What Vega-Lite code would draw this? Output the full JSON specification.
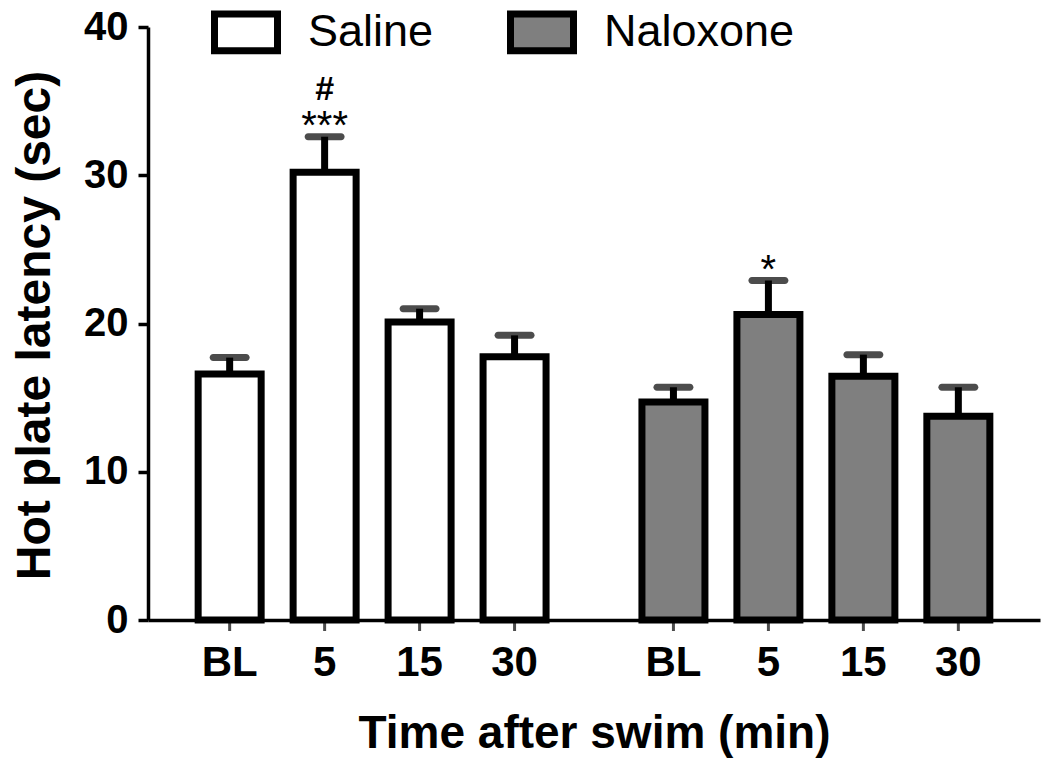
{
  "$schema": "https://vega.github.io/schema/vega-lite/v6.json",
  "autosize": "none",
  "width": 892,
  "height": 593,
  "padding": {"left": 148, "top": 27, "right": 10, "bottom": 150},
  "background": "white",
  "config": {
    "view": {"stroke": null},
    "font": "Liberation Sans"
  },
  "data": {
    "values": [
      {"group": "Saline", "time": "BL", "mean": 16.6, "upper": 17.7, "sig": "", "hash": ""},
      {"group": "Saline", "time": "5", "mean": 30.2, "upper": 32.6, "sig": "***", "hash": "#"},
      {"group": "Saline", "time": "15", "mean": 20.1, "upper": 21.0, "sig": "", "hash": ""},
      {"group": "Saline", "time": "30", "mean": 17.75, "upper": 19.2, "sig": "", "hash": ""},
      {"group": "Naloxone", "time": "BL", "mean": 14.7, "upper": 15.7, "sig": "", "hash": ""},
      {"group": "Naloxone", "time": "5", "mean": 20.6, "upper": 22.9, "sig": "*", "hash": ""},
      {"group": "Naloxone", "time": "15", "mean": 16.45, "upper": 17.9, "sig": "", "hash": ""},
      {"group": "Naloxone", "time": "30", "mean": 13.75, "upper": 15.7, "sig": "", "hash": ""}
    ]
  },
  "encoding": {
    "x": {
      "field": "group", "type": "nominal", "sort": ["Saline", "Naloxone"],
      "scale": {"paddingInner": 0.144, "paddingOuter": 0.077},
      "axis": {
        "labels": false, "ticks": false, "domainColor": "black", "domainWidth": 3.5,
        "title": "Time after swim (min)", "titleFont": "Liberation Sans", "titleFontSize": 46,
        "titleFontWeight": "bold", "titleColor": "black", "titleY": 113, "titleBaseline": "middle"
      }
    },
    "xOffset": {
      "field": "time", "type": "nominal", "sort": ["BL", "5", "15", "30"],
      "scale": {"paddingInner": 0, "paddingOuter": 0}
    }
  },
  "layer": [
    {
      "mark": {"type": "tick", "orient": "vertical", "size": 22, "thickness": 3, "color": "black"},
      "encoding": {"y": {"datum": 0, "type": "quantitative"}}
    },
    {
      "mark": {"type": "rule", "strokeWidth": 7, "color": "black"},
      "encoding": {
        "y": {"field": "mean", "type": "quantitative"},
        "y2": {"field": "upper"}
      }
    },
    {
      "mark": {"type": "bar", "width": 63, "stroke": "black", "strokeWidth": 7, "strokeJoin": "miter"},
      "encoding": {
        "y": {
          "field": "mean", "type": "quantitative",
          "scale": {"domain": [0, 40], "nice": false},
          "axis": {
            "values": [0, 10, 20, 30, 40], "tickSize": 10, "tickWidth": 3.5, "tickColor": "black",
            "domainColor": "black", "domainWidth": 3.5, "grid": false,
            "labelFont": "Liberation Sans", "labelFontSize": 40, "labelFontWeight": "bold",
            "labelColor": "black", "labelPadding": 10,
            "title": "Hot plate latency (sec)", "titleFont": "Liberation Sans", "titleFontSize": 48,
            "titleFontWeight": "bold", "titleColor": "black", "titleX": -113, "titleY": 298,
            "titleAlign": "center", "titleBaseline": "middle", "titleAngle": -90
          }
        },
        "fill": {
          "field": "group", "type": "nominal",
          "scale": {"domain": ["Saline", "Naloxone"], "range": ["white", "#7f7f7f"]},
          "legend": {
            "title": null, "orient": "none", "direction": "horizontal",
            "legendX": 63, "legendY": -30, "padding": 0,
            "symbolType": "M-1,-0.58H1V0.58H-1Z", "symbolSize": 3969,
            "symbolStrokeColor": "black", "symbolStrokeWidth": 7,
            "labelFont": "Liberation Sans", "labelFontSize": 45, "labelColor": "black",
            "labelOffset": 27, "labelLimit": 0, "columnPadding": 62
          }
        }
      }
    },
    {
      "mark": {"type": "tick", "orient": "horizontal", "size": 40, "thickness": 7, "color": "black", "cornerRadius": 3.5},
      "encoding": {"y": {"field": "upper", "type": "quantitative"}}
    },
    {
      "mark": {"type": "text", "baseline": "middle", "dy": 43, "font": "Liberation Sans", "fontSize": 42, "fontWeight": "bold", "color": "black"},
      "encoding": {
        "y": {"datum": 0, "type": "quantitative"},
        "text": {"field": "time"}
      }
    },
    {
      "mark": {"type": "text", "baseline": "middle", "dy": -10, "font": "Liberation Sans", "fontSize": 40, "color": "black"},
      "encoding": {
        "y": {"field": "upper", "type": "quantitative"},
        "text": {"field": "sig"}
      }
    },
    {
      "mark": {"type": "text", "baseline": "middle", "dy": -47, "font": "Liberation Sans", "fontSize": 34, "fontWeight": "bold", "color": "black"},
      "encoding": {
        "y": {"field": "upper", "type": "quantitative"},
        "text": {"field": "hash"}
      }
    }
  ]
}
